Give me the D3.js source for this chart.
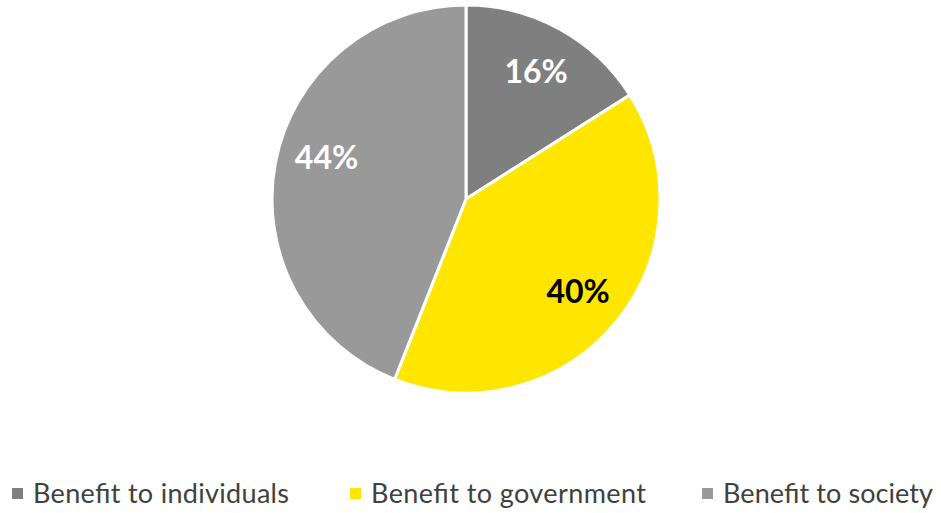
<!DOCTYPE html>
<html><head><meta charset="utf-8">
<script src="https://cdn.jsdelivr.net/npm/d3@7"></script>
<style>body{margin:0;background:#fff}svg{display:block}</style>
</head><body>
<script>
const categories = ["Benefit to individuals", "Benefit to government", "Benefit to society"];
const values = [16, 40, 44];
const colors = ["#7f7f7f", "#ffe600", "#999999"];
const labelColors = ["#ffffff", "#000000", "#ffffff"];
const labelAngleNudge = [0, 0, 5.7]; // degrees, label placement tweak

const W = 941, H = 513;
const svg = d3.select("body").append("svg").attr("width", W).attr("height", H);
const cx = 466, cy = 199, r = 194;
const data = categories.map((c, i) => ({c, v: values[i], i}));
const pie = d3.pie().value(d => d.v).sort(null);
const arcs = pie(data);
const arc = d3.arc().innerRadius(0).outerRadius(r);
const lr = r * 0.75;
const g = svg.append("g").attr("transform", `translate(${cx},${cy})`);
g.selectAll("path").data(arcs).join("path")
  .attr("d", arc).attr("fill", d => colors[d.data.i])
  .attr("stroke", "#fff").attr("stroke-width", 3).attr("stroke-linejoin","round");
g.selectAll("text").data(arcs).join("text")
  .attr("transform", d => {
    const a = (d.startAngle + d.endAngle) / 2 + labelAngleNudge[d.data.i] * Math.PI / 180;
    return `translate(${lr * Math.sin(a)},${-lr * Math.cos(a)})`;
  })
  .attr("text-anchor", "middle").attr("dy", "0.36em")
  .attr("font-family", "Lato, 'Open Sans', sans-serif").attr("font-weight", "bold")
  .attr("font-size", 32).attr("fill", d => labelColors[d.data.i])
  .text(d => d.data.v + "%");

const legendX = [12, 350, 702];
const legendW = [256, 275, 210];
const lg = svg.append("g");
categories.forEach((c, i) => {
  lg.append("rect").attr("x", legendX[i]).attr("y", 488).attr("width", 11).attr("height", 11).attr("fill", colors[i]);
  lg.append("text").attr("x", legendX[i] + 21).attr("y", 503)
    .attr("font-family", "Lato, 'Open Sans', sans-serif").attr("font-size", 27).attr("fill", "#404040")
    .attr("textLength", legendW[i]).attr("lengthAdjust", "spacing")
    .text(c);
});
</script>
</body></html>
